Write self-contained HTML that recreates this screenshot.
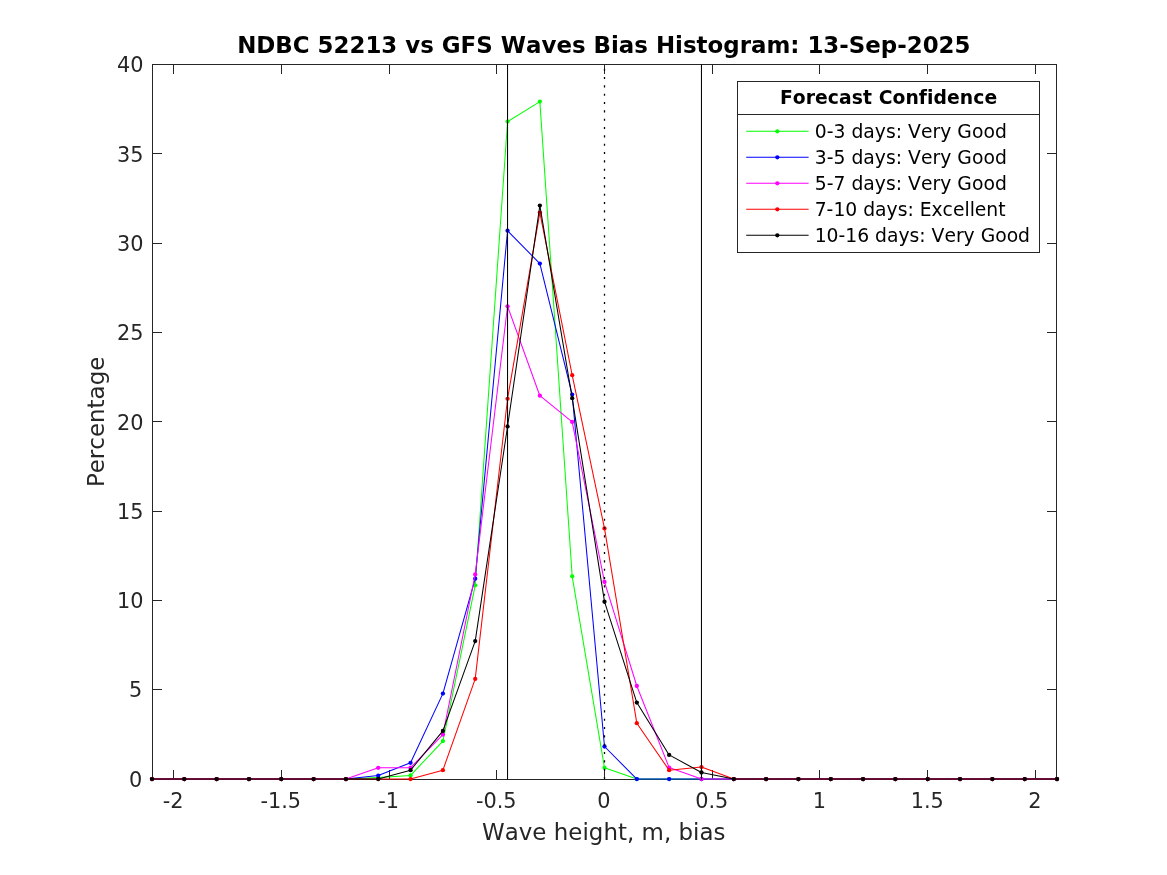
<!DOCTYPE html>
<html lang="en"><head><meta charset="utf-8"><title>NDBC 52213 vs GFS Waves Bias Histogram</title>
<style>html,body{margin:0;padding:0;background:#fff;}body{width:1167px;height:875px;overflow:hidden;}svg{display:block;}text{font-family:"DejaVu Sans","Liberation Sans",sans-serif;font-kerning:none;font-variant-ligatures:none;}.t{font-size:20.83px;fill:#262626;}.l{font-size:22.92px;fill:#262626;}.ttl{font-size:22.92px;font-weight:bold;fill:#000;}.lg{font-size:18.75px;fill:#000;}.lgt{font-size:18.75px;font-weight:bold;fill:#000;}</style></head><body>
<svg width="1167" height="875" viewBox="0 0 1167 875">
<rect x="0" y="0" width="1167" height="875" fill="#ffffff"/>
<g stroke="#262626" stroke-width="1.0" fill="none" stroke-linecap="butt">
<rect x="152.5" y="64.5" width="904.0" height="715.0"/>
<path d="M173.5 780.0V770.0M173.5 64.0V74.0M281.5 780.0V770.0M281.5 64.0V74.0M389.5 780.0V770.0M389.5 64.0V74.0M496.5 780.0V770.0M496.5 64.0V74.0M604.5 780.0V770.0M604.5 64.0V74.0M712.5 780.0V770.0M712.5 64.0V74.0M819.5 780.0V770.0M819.5 64.0V74.0M927.5 780.0V770.0M927.5 64.0V74.0M1035.5 780.0V770.0M1035.5 64.0V74.0M152.0 779.50H162.0M1057.0 779.50H1047.0M152.0 689.50H162.0M1057.0 689.50H1047.0M152.0 600.50H162.0M1057.0 600.50H1047.0M152.0 511.50H162.0M1057.0 511.50H1047.0M152.0 421.50H162.0M1057.0 421.50H1047.0M152.0 332.50H162.0M1057.0 332.50H1047.0M152.0 243.50H162.0M1057.0 243.50H1047.0M152.0 153.50H162.0M1057.0 153.50H1047.0M152.0 64.50H162.0M1057.0 64.50H1047.0"/>
</g>
<g stroke="#00ff00" fill="#00ff00"><polyline points="152.00,779.10 184.32,779.10 216.64,779.10 248.96,779.10 281.29,779.10 313.61,779.10 345.93,779.10 378.25,777.40 410.57,775.45 442.89,741.10 475.21,585.30 507.54,121.60 539.86,101.60 572.18,576.30 604.50,767.80 636.82,779.10 669.14,779.10 701.46,779.10 733.79,779.10 766.11,779.10 798.43,779.10 830.75,779.10 863.07,779.10 895.39,779.10 927.71,779.10 960.04,779.10 992.36,779.10 1024.68,779.10 1057.00,779.10" fill="none" stroke-width="1.04" stroke-linejoin="round"/>
<g stroke="none"><circle cx="152.00" cy="779.10" r="2.15"/><circle cx="184.32" cy="779.10" r="2.15"/><circle cx="216.64" cy="779.10" r="2.15"/><circle cx="248.96" cy="779.10" r="2.15"/><circle cx="281.29" cy="779.10" r="2.15"/><circle cx="313.61" cy="779.10" r="2.15"/><circle cx="345.93" cy="779.10" r="2.15"/><circle cx="378.25" cy="777.40" r="2.15"/><circle cx="410.57" cy="775.45" r="2.15"/><circle cx="442.89" cy="741.10" r="2.15"/><circle cx="475.21" cy="585.30" r="2.15"/><circle cx="507.54" cy="121.60" r="2.15"/><circle cx="539.86" cy="101.60" r="2.15"/><circle cx="572.18" cy="576.30" r="2.15"/><circle cx="604.50" cy="767.80" r="2.15"/><circle cx="636.82" cy="779.10" r="2.15"/><circle cx="669.14" cy="779.10" r="2.15"/><circle cx="701.46" cy="779.10" r="2.15"/><circle cx="733.79" cy="779.10" r="2.15"/><circle cx="766.11" cy="779.10" r="2.15"/><circle cx="798.43" cy="779.10" r="2.15"/><circle cx="830.75" cy="779.10" r="2.15"/><circle cx="863.07" cy="779.10" r="2.15"/><circle cx="895.39" cy="779.10" r="2.15"/><circle cx="927.71" cy="779.10" r="2.15"/><circle cx="960.04" cy="779.10" r="2.15"/><circle cx="992.36" cy="779.10" r="2.15"/><circle cx="1024.68" cy="779.10" r="2.15"/><circle cx="1057.00" cy="779.10" r="2.15"/></g></g>
<g stroke="#0000ff" fill="#0000ff"><polyline points="152.00,779.10 184.32,779.10 216.64,779.10 248.96,779.10 281.29,779.10 313.61,779.10 345.93,779.10 378.25,775.60 410.57,762.80 442.89,693.60 475.21,578.70 507.54,230.70 539.86,263.60 572.18,394.60 604.50,746.50 636.82,779.10 669.14,779.10 701.46,779.10 733.79,779.10 766.11,779.10 798.43,779.10 830.75,779.10 863.07,779.10 895.39,779.10 927.71,779.10 960.04,779.10 992.36,779.10 1024.68,779.10 1057.00,779.10" fill="none" stroke-width="1.04" stroke-linejoin="round"/>
<g stroke="none"><circle cx="152.00" cy="779.10" r="2.15"/><circle cx="184.32" cy="779.10" r="2.15"/><circle cx="216.64" cy="779.10" r="2.15"/><circle cx="248.96" cy="779.10" r="2.15"/><circle cx="281.29" cy="779.10" r="2.15"/><circle cx="313.61" cy="779.10" r="2.15"/><circle cx="345.93" cy="779.10" r="2.15"/><circle cx="378.25" cy="775.60" r="2.15"/><circle cx="410.57" cy="762.80" r="2.15"/><circle cx="442.89" cy="693.60" r="2.15"/><circle cx="475.21" cy="578.70" r="2.15"/><circle cx="507.54" cy="230.70" r="2.15"/><circle cx="539.86" cy="263.60" r="2.15"/><circle cx="572.18" cy="394.60" r="2.15"/><circle cx="604.50" cy="746.50" r="2.15"/><circle cx="636.82" cy="779.10" r="2.15"/><circle cx="669.14" cy="779.10" r="2.15"/><circle cx="701.46" cy="779.10" r="2.15"/><circle cx="733.79" cy="779.10" r="2.15"/><circle cx="766.11" cy="779.10" r="2.15"/><circle cx="798.43" cy="779.10" r="2.15"/><circle cx="830.75" cy="779.10" r="2.15"/><circle cx="863.07" cy="779.10" r="2.15"/><circle cx="895.39" cy="779.10" r="2.15"/><circle cx="927.71" cy="779.10" r="2.15"/><circle cx="960.04" cy="779.10" r="2.15"/><circle cx="992.36" cy="779.10" r="2.15"/><circle cx="1024.68" cy="779.10" r="2.15"/><circle cx="1057.00" cy="779.10" r="2.15"/></g></g>
<g stroke="#ff00ff" fill="#ff00ff"><polyline points="152.00,779.10 184.32,779.10 216.64,779.10 248.96,779.10 281.29,779.10 313.61,779.10 345.93,779.10 378.25,767.85 410.57,767.65 442.89,734.60 475.21,574.40 507.54,306.30 539.86,395.70 572.18,421.90 604.50,581.90 636.82,686.00 669.14,767.60 701.46,779.10 733.79,779.10 766.11,779.10 798.43,779.10 830.75,779.10 863.07,779.10 895.39,779.10 927.71,779.10 960.04,779.10 992.36,779.10 1024.68,779.10 1057.00,779.10" fill="none" stroke-width="1.04" stroke-linejoin="round"/>
<g stroke="none"><circle cx="152.00" cy="779.10" r="2.15"/><circle cx="184.32" cy="779.10" r="2.15"/><circle cx="216.64" cy="779.10" r="2.15"/><circle cx="248.96" cy="779.10" r="2.15"/><circle cx="281.29" cy="779.10" r="2.15"/><circle cx="313.61" cy="779.10" r="2.15"/><circle cx="345.93" cy="779.10" r="2.15"/><circle cx="378.25" cy="767.85" r="2.15"/><circle cx="410.57" cy="767.65" r="2.15"/><circle cx="442.89" cy="734.60" r="2.15"/><circle cx="475.21" cy="574.40" r="2.15"/><circle cx="507.54" cy="306.30" r="2.15"/><circle cx="539.86" cy="395.70" r="2.15"/><circle cx="572.18" cy="421.90" r="2.15"/><circle cx="604.50" cy="581.90" r="2.15"/><circle cx="636.82" cy="686.00" r="2.15"/><circle cx="669.14" cy="767.60" r="2.15"/><circle cx="701.46" cy="779.10" r="2.15"/><circle cx="733.79" cy="779.10" r="2.15"/><circle cx="766.11" cy="779.10" r="2.15"/><circle cx="798.43" cy="779.10" r="2.15"/><circle cx="830.75" cy="779.10" r="2.15"/><circle cx="863.07" cy="779.10" r="2.15"/><circle cx="895.39" cy="779.10" r="2.15"/><circle cx="927.71" cy="779.10" r="2.15"/><circle cx="960.04" cy="779.10" r="2.15"/><circle cx="992.36" cy="779.10" r="2.15"/><circle cx="1024.68" cy="779.10" r="2.15"/><circle cx="1057.00" cy="779.10" r="2.15"/></g></g>
<g stroke="#ff0000" fill="#ff0000"><polyline points="152.00,779.10 184.32,779.10 216.64,779.10 248.96,779.10 281.29,779.10 313.61,779.10 345.93,779.10 378.25,779.10 410.57,779.10 442.89,770.20 475.21,678.90 507.54,398.80 539.86,212.60 572.18,375.20 604.50,528.40 636.82,723.20 669.14,770.20 701.46,767.10 733.79,779.10 766.11,779.10 798.43,779.10 830.75,779.10 863.07,779.10 895.39,779.10 927.71,779.10 960.04,779.10 992.36,779.10 1024.68,779.10 1057.00,779.10" fill="none" stroke-width="1.04" stroke-linejoin="round"/>
<g stroke="none"><circle cx="152.00" cy="779.10" r="2.15"/><circle cx="184.32" cy="779.10" r="2.15"/><circle cx="216.64" cy="779.10" r="2.15"/><circle cx="248.96" cy="779.10" r="2.15"/><circle cx="281.29" cy="779.10" r="2.15"/><circle cx="313.61" cy="779.10" r="2.15"/><circle cx="345.93" cy="779.10" r="2.15"/><circle cx="378.25" cy="779.10" r="2.15"/><circle cx="410.57" cy="779.10" r="2.15"/><circle cx="442.89" cy="770.20" r="2.15"/><circle cx="475.21" cy="678.90" r="2.15"/><circle cx="507.54" cy="398.80" r="2.15"/><circle cx="539.86" cy="212.60" r="2.15"/><circle cx="572.18" cy="375.20" r="2.15"/><circle cx="604.50" cy="528.40" r="2.15"/><circle cx="636.82" cy="723.20" r="2.15"/><circle cx="669.14" cy="770.20" r="2.15"/><circle cx="701.46" cy="767.10" r="2.15"/><circle cx="733.79" cy="779.10" r="2.15"/><circle cx="766.11" cy="779.10" r="2.15"/><circle cx="798.43" cy="779.10" r="2.15"/><circle cx="830.75" cy="779.10" r="2.15"/><circle cx="863.07" cy="779.10" r="2.15"/><circle cx="895.39" cy="779.10" r="2.15"/><circle cx="927.71" cy="779.10" r="2.15"/><circle cx="960.04" cy="779.10" r="2.15"/><circle cx="992.36" cy="779.10" r="2.15"/><circle cx="1024.68" cy="779.10" r="2.15"/><circle cx="1057.00" cy="779.10" r="2.15"/></g></g>
<g stroke="#000000" fill="#000000"><polyline points="152.00,779.10 184.32,779.10 216.64,779.10 248.96,779.10 281.29,779.10 313.61,779.10 345.93,779.10 378.25,779.00 410.57,770.20 442.89,730.90 475.21,641.10 507.54,426.50 539.86,205.60 572.18,398.20 604.50,601.70 636.82,702.60 669.14,754.90 701.46,772.50 733.79,779.10 766.11,779.10 798.43,779.10 830.75,779.10 863.07,779.10 895.39,779.10 927.71,779.10 960.04,779.10 992.36,779.10 1024.68,779.10 1057.00,779.10" fill="none" stroke-width="1.04" stroke-linejoin="round"/>
<g stroke="none"><circle cx="152.00" cy="779.10" r="2.15"/><circle cx="184.32" cy="779.10" r="2.15"/><circle cx="216.64" cy="779.10" r="2.15"/><circle cx="248.96" cy="779.10" r="2.15"/><circle cx="281.29" cy="779.10" r="2.15"/><circle cx="313.61" cy="779.10" r="2.15"/><circle cx="345.93" cy="779.10" r="2.15"/><circle cx="378.25" cy="779.00" r="2.15"/><circle cx="410.57" cy="770.20" r="2.15"/><circle cx="442.89" cy="730.90" r="2.15"/><circle cx="475.21" cy="641.10" r="2.15"/><circle cx="507.54" cy="426.50" r="2.15"/><circle cx="539.86" cy="205.60" r="2.15"/><circle cx="572.18" cy="398.20" r="2.15"/><circle cx="604.50" cy="601.70" r="2.15"/><circle cx="636.82" cy="702.60" r="2.15"/><circle cx="669.14" cy="754.90" r="2.15"/><circle cx="701.46" cy="772.50" r="2.15"/><circle cx="733.79" cy="779.10" r="2.15"/><circle cx="766.11" cy="779.10" r="2.15"/><circle cx="798.43" cy="779.10" r="2.15"/><circle cx="830.75" cy="779.10" r="2.15"/><circle cx="863.07" cy="779.10" r="2.15"/><circle cx="895.39" cy="779.10" r="2.15"/><circle cx="927.71" cy="779.10" r="2.15"/><circle cx="960.04" cy="779.10" r="2.15"/><circle cx="992.36" cy="779.10" r="2.15"/><circle cx="1024.68" cy="779.10" r="2.15"/><circle cx="1057.00" cy="779.10" r="2.15"/></g></g>
<g stroke="#000" stroke-width="1.04">
<line x1="507.54" y1="64.5" x2="507.54" y2="779.5"/>
<line x1="701.46" y1="64.5" x2="701.46" y2="779.5"/>
<line x1="604.50" y1="779.1" x2="604.50" y2="64.5" stroke-dasharray="2.0833 6.25" stroke-width="1.3"/>
</g>
<text class="t" x="173.05" y="808" text-anchor="middle">-2</text>
<text class="t" x="280.79" y="808" text-anchor="middle">-1.5</text>
<text class="t" x="388.52" y="808" text-anchor="middle">-1</text>
<text class="t" x="496.26" y="808" text-anchor="middle">-0.5</text>
<text class="t" x="604.00" y="808" text-anchor="middle">0</text>
<text class="t" x="711.74" y="808" text-anchor="middle">0.5</text>
<text class="t" x="819.48" y="808" text-anchor="middle">1</text>
<text class="t" x="927.21" y="808" text-anchor="middle">1.5</text>
<text class="t" x="1034.95" y="808" text-anchor="middle">2</text>
<text class="t" x="142.2" y="786.50" text-anchor="end">0</text>
<text class="t" x="142.2" y="697.12" text-anchor="end">5</text>
<text class="t" x="143.5" y="608.45" text-anchor="end">10</text>
<text class="t" x="143.5" y="519.08" text-anchor="end">15</text>
<text class="t" x="143.5" y="429.70" text-anchor="end">20</text>
<text class="t" x="143.5" y="340.32" text-anchor="end">25</text>
<text class="t" x="143.5" y="250.95" text-anchor="end">30</text>
<text class="t" x="143.5" y="161.57" text-anchor="end">35</text>
<text class="t" x="143.5" y="72.20" text-anchor="end">40</text>
<text class="l" x="482" y="840" textLength="243.5" lengthAdjust="spacing">Wave height, m, bias</text>
<text class="l" transform="translate(103.8 487.1) rotate(-90)" textLength="130.4" lengthAdjust="spacing">Percentage</text>
<text class="ttl" x="237.2" y="52.9">NDBC 52213 vs GFS Waves Bias Histogram: 13-Sep-2025</text>
<g stroke="#262626" stroke-width="1.0"><rect x="737.5" y="81.5" width="302.0" height="171.0" fill="#fff"/><line x1="737.5" y1="114.5" x2="1039.5" y2="114.5"/></g>
<text class="lgt" x="779.9" y="104" textLength="217.3" lengthAdjust="spacing">Forecast Confidence</text>
<line x1="746.2" y1="131.35" x2="808.6" y2="131.35" stroke="#00ff00" stroke-width="1.04"/><circle cx="777.3" cy="131.35" r="2.15" fill="#00ff00"/>
<text class="lg" x="814.7" y="137.90" textLength="192.1" lengthAdjust="spacing">0-3 days: Very Good</text>
<line x1="746.2" y1="157.35" x2="808.6" y2="157.35" stroke="#0000ff" stroke-width="1.04"/><circle cx="777.3" cy="157.35" r="2.15" fill="#0000ff"/>
<text class="lg" x="814.7" y="163.90" textLength="192.1" lengthAdjust="spacing">3-5 days: Very Good</text>
<line x1="746.2" y1="183.35" x2="808.6" y2="183.35" stroke="#ff00ff" stroke-width="1.04"/><circle cx="777.3" cy="183.35" r="2.15" fill="#ff00ff"/>
<text class="lg" x="814.7" y="189.90" textLength="192.1" lengthAdjust="spacing">5-7 days: Very Good</text>
<line x1="746.2" y1="209.35" x2="808.6" y2="209.35" stroke="#ff0000" stroke-width="1.04"/><circle cx="777.3" cy="209.35" r="2.15" fill="#ff0000"/>
<text class="lg" x="814.7" y="215.90" textLength="190.9" lengthAdjust="spacing">7-10 days: Excellent</text>
<line x1="746.2" y1="235.35" x2="808.6" y2="235.35" stroke="#000000" stroke-width="1.04"/><circle cx="777.3" cy="235.35" r="2.15" fill="#000000"/>
<text class="lg" x="814.7" y="241.90" textLength="215.3" lengthAdjust="spacing">10-16 days: Very Good</text>
</svg></body></html>
